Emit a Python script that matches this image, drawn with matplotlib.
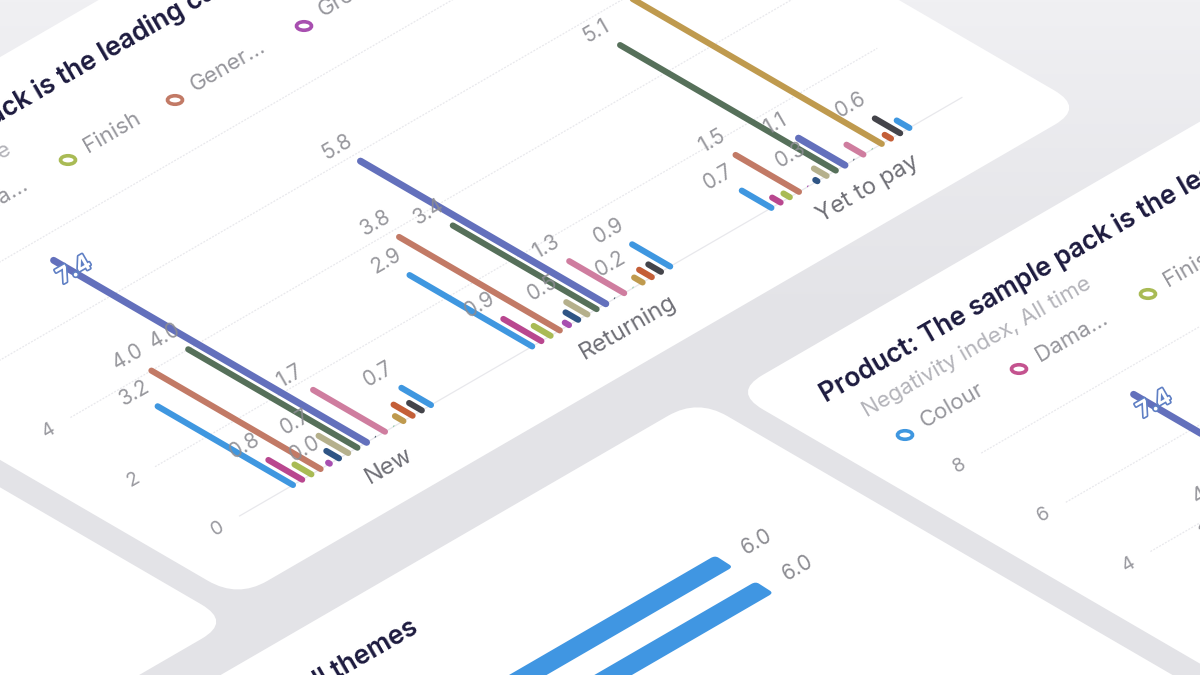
import numpy as np
import matplotlib
matplotlib.use("Agg")
import matplotlib.pyplot as plt
import matplotlib.patheffects as pe
from matplotlib.patches import FancyBboxPatch, Ellipse
from matplotlib.colors import LinearSegmentedColormap
from matplotlib.transforms import Affine2D

plt.rcParams['font.family'] = ['Inter', 'DejaVu Sans']

# ---- data ----
groups = ["New", "Returning", "Yet to pay"]
series_colors = ["#3f97e0", "#b9478f", "#a9bb55", "#c27a66", "#a84fb0", "#2f5585",
                 "#b5b08c", "#56705a", "#6370bc", "#4a5a68", "#cf7d9f", "#8fc9a9",
                 "#bf9a4e", "#c45f38", "#44444a", "#3f97e0"]
new_values = [3.2, 0.8, 0.4, 4.0, 0.04, 0.3, 0.7, 4.0, 7.4, 0.02, 1.7, 0.02, 0.2, 0.45, 0.3, 0.7]
returning_values = [2.9, 0.9, 0.4, 3.8, 0.1, 0.3, 0.5, 3.4, 5.8, 0.02, 1.3, 0.02, 0.2, 0.3, 0.3, 0.9]
yet_to_pay_values = [0.7, 0.2, 0.15, 1.5, 0.02, 0.05, 0.3, 5.1, 1.1, 0.02, 0.4, 0.02, 6.6, 0.15, 0.6, 0.3]
new_labelled = [0, 1, 3, 4, 6, 7, 8, 10, 15]
returning_labelled = [0, 1, 3, 6, 7, 8, 10, 12, 15]
yet_to_pay_labelled = [0, 3, 6, 7, 8, 12, 14]
y_ticks = [0, 2, 4, 6, 8]
title = "Product: The sample pack is the leading cause"
subtitle = "Negativity index, All time"
legend_names = ["Colour", "Dama...", "Finish", "Gener...", "Green"]
legend_colors = ["#3f97e0", "#c4538f", "#a9bb55", "#c27a66", "#a84fb0"]
lower_title = "Overall themes"
lower_values = [6.0, 6.0]

# ---- layout ----
SLOTS_PER_GROUP = 26
X0, Y0 = 293, 485
STEP_S = (9.2, -5.33)
STEP_V = (-42.3, -24.6)
S_MIN, S_MAX, V_MIN, V_MAX = -13.6, 78.4, -1.65, 12.17
RIGHT_OFFSET = (1080, 134)
LOWER_OFFSET = (198, 631)
LEFT_OFFSET = (-853, 514)

GREY = "#8c8c92"

fig = plt.figure(figsize=(12, 6.75), dpi=100)
ax = fig.add_axes([0, 0, 1, 1])
ax.set_xlim(0, 1200)
ax.set_ylim(675, 0)
ax.axis("off")

# page background: slightly lighter towards the top
bg = LinearSegmentedColormap.from_list("bg", ["#f0f0f3", "#e3e3e7"])
shade = np.linspace(0, 1, 160)[:, None]
ax.imshow(shade, cmap=bg, vmin=0, vmax=1, extent=(0, 1200, 320, 0), aspect="auto", zorder=0)
ax.axhspan(320, 675, color="#e3e3e7", zorder=0, lw=0)
ax.set_xlim(0, 1200)
ax.set_ylim(675, 0)


def iso(off=(0, 0)):
    return Affine2D.from_values(STEP_S[0], STEP_S[1], STEP_V[0], STEP_V[1],
                                X0 + off[0], Y0 + off[1]) + ax.transData


def card(off):
    ax.add_patch(FancyBboxPatch((S_MIN, V_MIN), S_MAX - S_MIN, V_MAX - V_MIN,
                                boxstyle="round,pad=0,rounding_size=3.2", mutation_aspect=0.22,
                                fc="white", ec="none", transform=iso(off), zorder=1))


def chart(off):
    tf = iso(off)
    for t in y_ticks:
        ax.plot([-5.8, 72.7], [t, t], transform=tf, color="#e8e8ec", lw=0.9,
                ls="-" if t == 0 else (0, (1.5, 1.2)), zorder=2)
        ax.text(-8.2, t, str(t), transform=tf, color="#9a9aa0", fontsize=14, rotation=30,
                rotation_mode="anchor", ha="center", va="center", zorder=3)
    value_sets = [new_values, returning_values, yet_to_pay_values]
    label_sets = [new_labelled, returning_labelled, yet_to_pay_labelled]
    for g, (name, vals, labelled) in enumerate(zip(groups, value_sets, label_sets)):
        base = g * SLOTS_PER_GROUP
        ax.text(base + 7, -0.75, name, transform=tf, color="#6f6f76", fontsize=17, rotation=30,
                rotation_mode="anchor", ha="center", va="center", zorder=3)
        for i in labelled:
            inside = vals[i] > 7
            if inside:
                ax.text(base + i + 0.2, vals[i] - 0.45, f"{vals[i]:.1f}", transform=tf, color="white",
                        fontsize=16, fontweight="bold", rotation=30, rotation_mode="anchor",
                        ha="center", va="center", zorder=6,
                        path_effects=[pe.withStroke(linewidth=2.4, foreground="#5f7fc4")])
            else:
                ax.text(base + i, vals[i] + 0.56, f"{vals[i]:.1f}", transform=tf, color=GREY,
                        fontsize=15, rotation=30, rotation_mode="anchor", ha="center", va="center",
                        zorder=5, alpha=0.9)
        for i, v in enumerate(vals):
            thin = v < 0.03
            ax.plot([base + i, base + i], [0, v], transform=tf, color=series_colors[i],
                    lw=1.4 if thin else (5.0 if i == 8 else 4.4),
                    solid_capstyle="butt" if thin else "round", zorder=4)


def header(off):
    ox, oy = off
    ax.text(-254 + ox, 269 + oy, title, color="#1d1b3f", fontsize=19, fontweight=600, rotation=30,
            rotation_mode="anchor", ha="left", va="baseline", zorder=3)
    ax.text(-213 + ox, 284 + oy, subtitle, color="#b4b4ba", fontsize=16, rotation=30,
            rotation_mode="anchor", ha="left", va="baseline", zorder=3)
    circles = [(-175, 301), (-61, 235), (68, 160), (175, 100), (304, 26)]
    texts = [(-155, 294), (-40, 228), (88, 153), (195, 92), (323, 17)]
    for name, col, c, t in zip(legend_names, legend_colors, circles, texts):
        ax.add_patch(Ellipse((c[0] + ox, c[1] + oy), 15, 8.5, fc="none", ec=col, lw=2.6, zorder=3))
        ax.text(t[0] + ox, t[1] + oy, name, color="#96969c", fontsize=16, rotation=30,
                rotation_mode="anchor", ha="left", va="baseline", zorder=3)


# cards
for off in [(0, 0), RIGHT_OFFSET, LOWER_OFFSET, LEFT_OFFSET]:
    card(off)

# the two visible grouped-bar charts
for off in [(0, 0), RIGHT_OFFSET]:
    chart(off)
    header(off)

# lower card: horizontal bars
bar_tf = Affine2D.from_values(60, -34.8, 40.5, 26, 364, 770) + ax.transData
for row, v in enumerate(lower_values):
    ax.add_patch(FancyBboxPatch((0, row - 0.22), v, 0.44,
                                boxstyle="round,pad=0,rounding_size=0.07", mutation_aspect=1.2,
                                fc="#4096e2", ec="none", transform=bar_tf, zorder=4))
    ax.text(v + 0.55, row, f"{v:.1f}", transform=bar_tf, color=GREY, fontsize=15, rotation=30,
            rotation_mode="anchor", ha="center", va="center", zorder=4)
ax.text(420, 632, lower_title, color="#1d1b3f", fontsize=19, fontweight=600, rotation=30,
        rotation_mode="anchor", ha="right", va="baseline", zorder=3)

fig.savefig("out.png", dpi=100)
